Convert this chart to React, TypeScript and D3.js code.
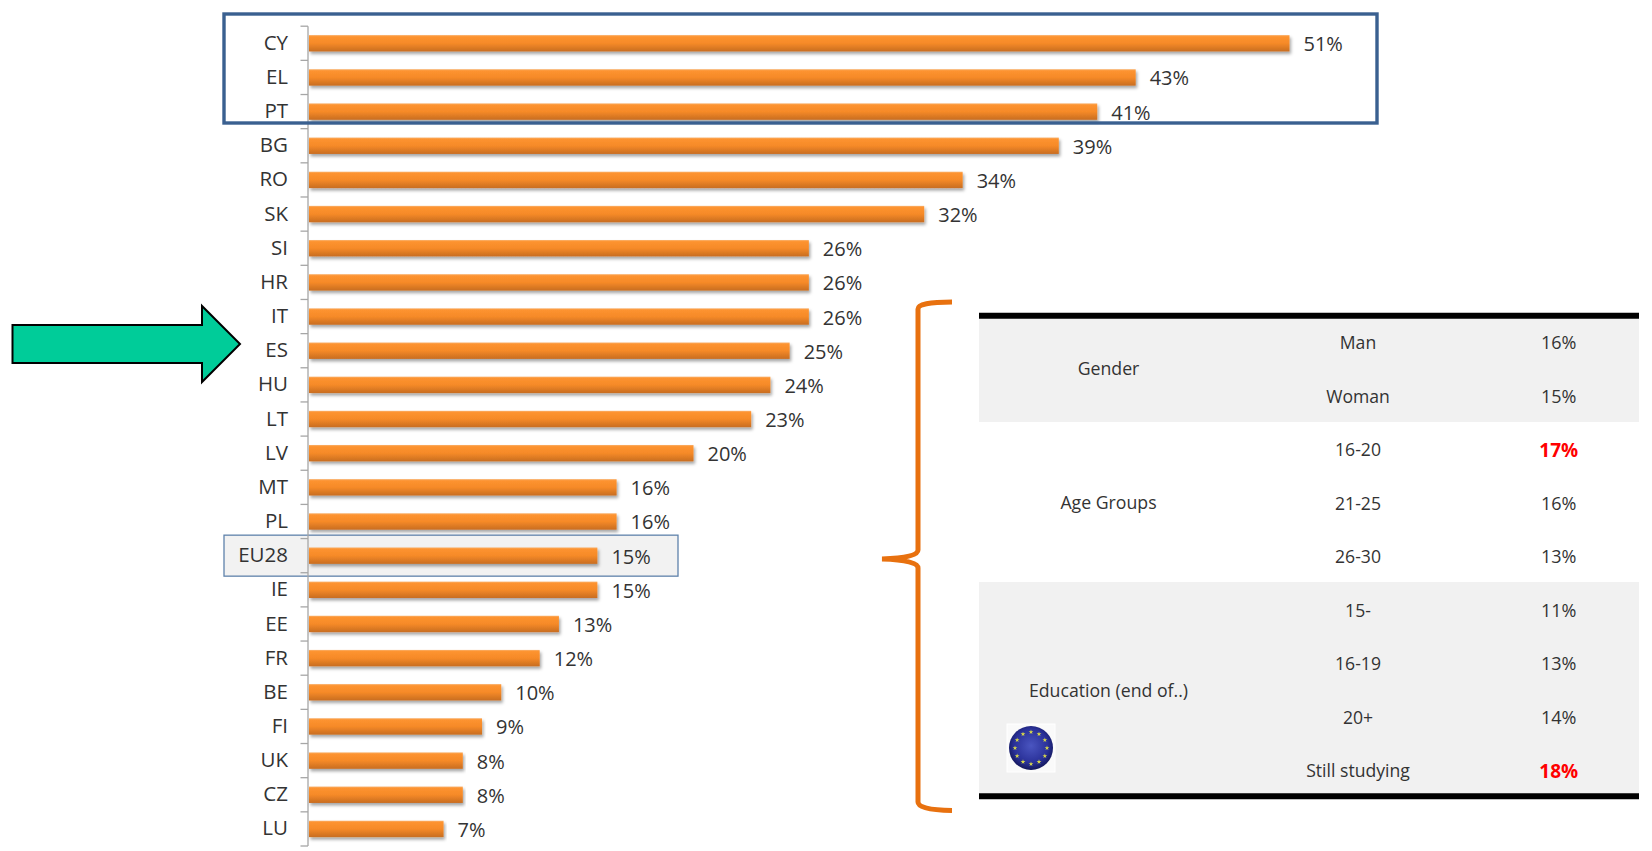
import React, { useEffect, useRef } from "react";
import * as d3 from "d3";

const countries = [
  "CY", "EL", "PT", "BG", "RO", "SK", "SI", "HR", "IT", "ES", "HU", "LT",
  "LV", "MT", "PL", "EU28", "IE", "EE", "FR", "BE", "FI", "UK", "CZ", "LU",
];
const shares = [
  51, 43, 41, 39, 34, 32, 26, 26, 26, 25, 24, 23,
  20, 16, 16, 15, 15, 13, 12, 10, 9, 8, 8, 7,
];

const tableLabels = [
  "Man", "Woman", "16-20", "21-25", "26-30", "15-", "16-19", "20+", "Still studying",
];
const tableValues = [16, 15, 17, 16, 13, 11, 13, 14, 18];
const highlighted = ["16-20", "Still studying"];

const groupNames = ["Gender", "Age Groups", "Education (end of..)"];

const FONT = "'Open Sans', sans-serif";
const TEXT = "#333333";

const App: React.FC = () => {
  const svgRef = useRef<SVGSVGElement | null>(null);

  useEffect(() => {
    if (!svgRef.current) return;
    const svg = d3.select(svgRef.current);
    svg.selectAll("*").remove(); // Clear previous content

    const x = d3.scaleLinear().domain([0, 51]).range([309, 1289.5]);
    const y = d3
      .scaleBand<string>()
      .domain(countries)
      .range([26.2, 846])
      .paddingInner(0.52)
      .paddingOuter(0.26);

    const defs = svg.append("defs");
    const grad = defs
      .append("linearGradient")
      .attr("id", "barFill")
      .attr("x1", 0)
      .attr("x2", 0)
      .attr("y1", 0)
      .attr("y2", 1);
    [
      ["0%", "#f9b06a"],
      ["10%", "#fd9330"],
      ["50%", "#f68a28"],
      ["100%", "#c86d20"],
    ].forEach(([o, c]) => grad.append("stop").attr("offset", o).attr("stop-color", c));

    const shadow = defs
      .append("filter")
      .attr("id", "barShadow")
      .attr("x", "-2%")
      .attr("y", "-50%")
      .attr("width", "104%")
      .attr("height", "220%");
    shadow
      .append("feDropShadow")
      .attr("dx", 1.5)
      .attr("dy", 2.5)
      .attr("stdDeviation", 1.6)
      .attr("flood-color", "#000")
      .attr("flood-opacity", 0.35);

    const flagGrad = defs
      .append("radialGradient")
      .attr("id", "flagFill")
      .attr("cx", "50%")
      .attr("cy", "45%")
      .attr("r", "55%");
    flagGrad.append("stop").attr("offset", "0%").attr("stop-color", "#4a55c0");
    flagGrad.append("stop").attr("offset", "70%").attr("stop-color", "#2a3199");
    flagGrad.append("stop").attr("offset", "100%").attr("stop-color", "#14185c");

    // EU28 highlight behind its row
    const euBand = y("EU28")!;
    const euMid = euBand + y.bandwidth() / 2;
    svg
      .append("rect")
      .attr("x", 224)
      .attr("y", euMid - 20.5)
      .attr("width", 454)
      .attr("height", 41)
      .attr("fill", "#f2f2f2")
      .attr("stroke", "#5f82ab")
      .attr("stroke-width", 1.3);

    // Axis: labels from d3.axisLeft, ticks sit on the band edges
    const axis = svg
      .append("g")
      .attr("transform", "translate(308,0)")
      .call(d3.axisLeft(y).tickSize(0).tickPadding(20));
    axis.select(".domain").remove();
    axis
      .selectAll("text")
      .attr("font-family", FONT)
      .attr("font-size", 20.5)
      .attr("fill", TEXT);

    const step = y.step();
    const edges = countries.map((c) => y(c)! + y.bandwidth() / 2 - step / 2);
    edges.push(edges[edges.length - 1] + step);
    svg
      .append("line")
      .attr("x1", 308)
      .attr("x2", 308)
      .attr("y1", edges[0])
      .attr("y2", edges[edges.length - 1])
      .attr("stroke", "#a6a6a6")
      .attr("stroke-width", 1.3);
    svg
      .selectAll(".tick-mark")
      .data(edges)
      .enter()
      .append("line")
      .attr("class", "tick-mark")
      .attr("x1", 300.5)
      .attr("x2", 308)
      .attr("y1", (d) => d)
      .attr("y2", (d) => d)
      .attr("stroke", "#a6a6a6")
      .attr("stroke-width", 1.3);

    svg
      .selectAll(".bar")
      .data(countries)
      .enter()
      .append("rect")
      .attr("class", "bar")
      .attr("x", x(0))
      .attr("y", (d) => y(d)!)
      .attr("width", (_, i) => x(shares[i]) - x(0))
      .attr("height", y.bandwidth())
      .attr("fill", "url(#barFill)")
      .attr("filter", "url(#barShadow)");

    svg
      .selectAll(".bar-label")
      .data(countries)
      .enter()
      .append("text")
      .attr("class", "bar-label")
      .attr("x", (_, i) => x(shares[i]) + 14)
      .attr("y", (d) => y(d)! + y.bandwidth() / 2 + 1)
      .attr("dy", "0.35em")
      .attr("font-family", FONT)
      .attr("font-size", 20)
      .attr("fill", TEXT)
      .text((_, i) => `${shares[i]}%`);

    // Blue frame around the top three
    svg
      .append("rect")
      .attr("x", 224)
      .attr("y", 14)
      .attr("width", 1153)
      .attr("height", 109)
      .attr("fill", "none")
      .attr("stroke", "#3a6090")
      .attr("stroke-width", 3.4);

    // Green arrow pointing at ES
    const arrow = d3.path();
    arrow.moveTo(12.5, 325);
    arrow.lineTo(202, 325);
    arrow.lineTo(202, 306);
    arrow.lineTo(240, 344);
    arrow.lineTo(202, 382);
    arrow.lineTo(202, 363);
    arrow.lineTo(12.5, 363);
    arrow.closePath();
    svg
      .append("path")
      .attr("d", arrow.toString())
      .attr("fill", "#00cc99")
      .attr("stroke", "#000")
      .attr("stroke-width", 2);

    // Orange brace
    const brace = d3.path();
    brace.moveTo(952, 302);
    brace.quadraticCurveTo(918, 302, 918, 309);
    brace.lineTo(918, 550);
    brace.quadraticCurveTo(918, 558, 882, 559);
    brace.quadraticCurveTo(918, 560, 918, 568);
    brace.lineTo(918, 802);
    brace.quadraticCurveTo(918, 810, 952, 810.5);
    svg
      .append("path")
      .attr("d", brace.toString())
      .attr("fill", "none")
      .attr("stroke", "#e8710f")
      .attr("stroke-width", 5);

    // Table bands
    const tableX = d3.scalePoint<string>().domain(["group", "label", "value"]).range([1108.5, 1558.7]);
    const left = 979;
    const right = 1639;
    const rowY = d3
      .scaleLinear()
      .domain([0, tableLabels.length - 1])
      .range([343, 771]);
    const bandEdges = [318, 422, 582, 794];
    [0, 2].forEach((i) => {
      svg
        .append("rect")
        .attr("x", left)
        .attr("y", bandEdges[i])
        .attr("width", right - left)
        .attr("height", bandEdges[i + 1] - bandEdges[i])
        .attr("fill", "#f1f1f1");
    });
    [315.7, 796.3].forEach((ly) => {
      svg
        .append("line")
        .attr("x1", left)
        .attr("x2", right)
        .attr("y1", ly)
        .attr("y2", ly)
        .attr("stroke", "#000")
        .attr("stroke-width", 6);
    });

    svg
      .selectAll(".row-label")
      .data(tableLabels)
      .enter()
      .append("text")
      .attr("class", "row-label")
      .attr("x", 1358)
      .attr("y", (_, i) => rowY(i))
      .attr("dy", "0.35em")
      .attr("text-anchor", "middle")
      .attr("font-family", FONT)
      .attr("font-size", 17.6)
      .attr("fill", TEXT)
      .text((d) => d);

    svg
      .selectAll(".row-value")
      .data(tableLabels)
      .enter()
      .append("text")
      .attr("class", "row-value")
      .attr("x", tableX("value")!)
      .attr("y", (_, i) => rowY(i))
      .attr("dy", "0.35em")
      .attr("text-anchor", "middle")
      .attr("font-family", FONT)
      .attr("font-size", (d) => (highlighted.includes(d) ? 19 : 18))
      .attr("font-weight", (d) => (highlighted.includes(d) ? 700 : 400))
      .attr("fill", (d) => (highlighted.includes(d) ? "#ff0000" : TEXT))
      .text((_, i) => `${tableValues[i]}%`);

    const groupYs = [369, 503, 691];
    svg
      .selectAll(".group-label")
      .data(groupNames)
      .enter()
      .append("text")
      .attr("class", "group-label")
      .attr("x", tableX("group")!)
      .attr("y", (_, i) => groupYs[i])
      .attr("dy", "0.35em")
      .attr("text-anchor", "middle")
      .attr("font-family", FONT)
      .attr("font-size", 17.7)
      .attr("fill", TEXT)
      .text((d) => d);

    // EU flag icon
    const flag = svg.append("g").attr("transform", "translate(1031,748)");
    flag
      .append("rect")
      .attr("x", -24)
      .attr("y", -24)
      .attr("width", 48)
      .attr("height", 48)
      .attr("fill", "#fafafa")
      .attr("stroke", "#fff");
    flag.append("circle").attr("r", 22).attr("fill", "url(#flagFill)");
    flag
      .selectAll(".star")
      .data(d3.range(12))
      .enter()
      .append("path")
      .attr("class", "star")
      .attr("d", d3.symbol(d3.symbolStar, 7)())
      .attr("fill", "#d8d84a")
      .attr("transform", (d) => {
        const a = (d / 12) * 2 * Math.PI;
        return `translate(${16 * Math.sin(a)},${-16 * Math.cos(a)})`;
      });
  }, []);

  return (
    <svg
      ref={svgRef}
      width="1652"
      height="851"
      style={{ position: "absolute", left: 0, top: 0, background: "#fff" }}
    ></svg>
  );
};

export default App;
